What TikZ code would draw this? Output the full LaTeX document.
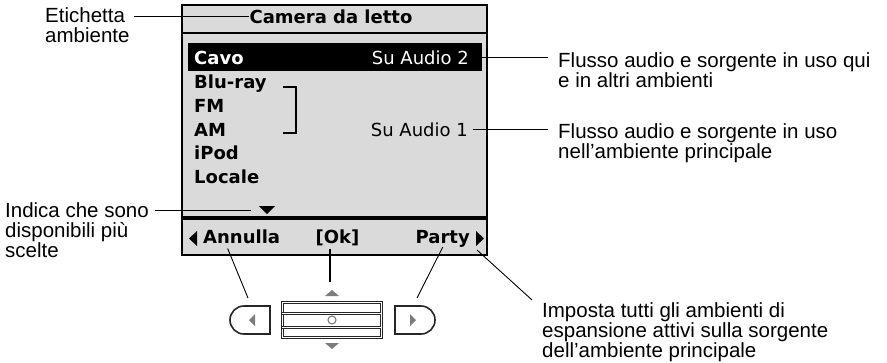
\documentclass[tikz,border=0pt]{standalone}
\usepackage{fontspec}
\setmainfont{Liberation Sans}
\newfontfamily\lcdfont{DejaVu Sans}
\definecolor{lcd}{RGB}{218,218,218}
\definecolor{keygray}{RGB}{125,125,125}

\begin{document}
\begin{tikzpicture}[x=1pt,y=-1pt,
		lcdbold/.style={inner sep=0pt, font=\lcdfont\bfseries\fontsize{18}{18}\selectfont},
		lcdthin/.style={inner sep=0pt, font=\lcdfont\fontsize{18}{18}\selectfont},
		note/.style={inner sep=0pt, align=left, anchor=base west, font=\fontsize{20.5}{20}\selectfont},
		leader/.style={line width=0.9pt},
		keyshape/.style={draw=black!85, line width=1.6pt, fill=white},
		keyline/.style={draw=black!85, line width=1pt, double=white, double distance=1pt},
		keyarrow/.style={fill=keygray}]
		\useasboundingbox (0,0) rectangle (887,362);

		% display
		\draw [line width=2.5pt, fill=lcd] (182,5) rectangle (487,255);
		\draw [line width=2.5pt] (182,33) -- (487,33);
		\draw [line width=4pt] (182,218) -- (487,218);
		\fill (188,43) rectangle (482,71);

		\draw (331,23) node [lcdbold, anchor=base] (title) {Camera da letto};
		\draw (194,64) node [lcdbold, anchor=base west, white] (cavo) {Cavo};
		\draw (469,64) node [lcdthin, anchor=base east, white] (su2) {Su Audio 2};
		\draw (194,88) node [lcdbold, anchor=base west] (bluray) {Blu-ray};
		\draw (194,112) node [lcdbold, anchor=base west] (fm) {FM};
		\draw (194,136) node [lcdbold, anchor=base west] (am) {AM};
		\draw (194,159) node [lcdbold, anchor=base west] (ipod) {iPod};
		\draw (194,183) node [lcdbold, anchor=base west] (locale) {Locale};
		\draw (468,136) node [lcdthin, anchor=base east] (su1) {Su Audio 1};
		\draw [line width=1.5pt] (283,87) -- (296,87) -- (296,133) -- (283,133);
		\fill (259,206) -- (275,206) -- (267,214) -- cycle;
		\coordinate (more) at (259,210);

		\fill (197,231) -- (189,238.5) -- (197,246) -- cycle;
		\fill (476,231) -- (484,238.5) -- (476,246) -- cycle;
		\coordinate (partytip) at (477,250);
		\draw (203,243) node [lcdbold, anchor=base west] (annulla) {Annulla};
		\draw (337.5,243) node [lcdbold, anchor=base] (ok) {[Ok]};
		\draw (470,243) node [lcdbold, anchor=base east] (party) {Party};

		% keys
		\draw [keyshape] (270,306) -- (244,306) arc (270:90:14) -- (270,334) -- cycle;
		\draw [keyshape] (395,306) -- (421,306) arc (-90:90:14) -- (395,334) -- cycle;
		\fill [keyarrow] (255,314) -- (249,320) -- (255,326) -- cycle;
		\fill [keyarrow] (410,314) -- (416,320) -- (410,326) -- cycle;
		\draw [keyline, fill=white] (282,302) rectangle (381,337);
		\draw [keyline] (282,313) -- (381,313);
		\draw [keyline] (282,327) -- (381,327);
		\draw [draw=keygray, line width=1.1pt, fill=white] (332,320) circle (4);
		\fill [keyarrow] (325,296) -- (339,296) -- (332,290) -- cycle;
		\fill [keyarrow] (325,343) -- (339,343) -- (332,349) -- cycle;
		\coordinate (lkey) at (248,298);
		\coordinate (okkey) at (330,282);
		\coordinate (rkey) at (417,298);

		% notes (base = last line)
		\draw (45,42) node [note] (etichetta) {Etichetta\\ambiente};
		\draw (5,257) node [note] (indica) {Indica che sono\\disponibili più\\scelte};
		\draw (558,87) node [note] (flussoqui) {Flusso audio e sorgente in uso qui\\e in altri ambienti};
		\draw (558,158) node [note] (flussoprinc) {Flusso audio e sorgente in uso\\nell’ambiente principale};
		\draw (542,357) node [note] (imposta) {Imposta tutti gli ambienti di\\espansione attivi sulla sorgente\\dell’ambiente principale};

		\draw [leader] ([xshift=4pt]etichetta.north east |- title.west) -- (title.west);
		\draw [leader] ([xshift=6pt]indica.north east |- more) -- ([xshift=-8pt]more);
		\draw [leader] ([xshift=13pt]su2.east) -- ([xshift=-10pt]flussoqui.west |- su2.east);
		\draw [leader] ([xshift=5pt]su1.east) -- ([xshift=-10pt]flussoprinc.west |- su1.east);
		\draw [leader] ([shift={(-14,5)}]annulla.south) -- (lkey);
		\draw [line width=2pt] ([shift={(-7.5,3)}]ok.south) -- (okkey);
		\draw [leader] (party.south) -- (rkey);
		\draw [leader] (partytip) -- ([shift={(-10,-2)}]imposta.north west);
	\end{tikzpicture}
\end{document}
